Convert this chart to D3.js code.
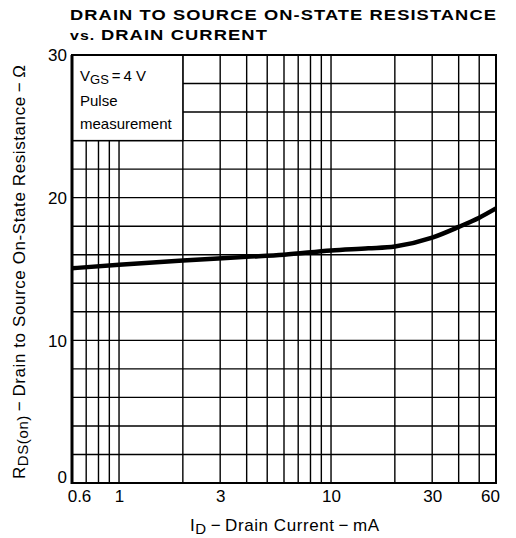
<!DOCTYPE html>
<html><head><meta charset="utf-8">
<script src="https://cdn.jsdelivr.net/npm/d3@7/dist/d3.min.js"></script>
<style>body{margin:0;background:#fff}svg{display:block}text{font-family:"Liberation Sans",Arial,Helvetica,sans-serif;fill:#000}</style>
</head><body><svg id="c" width="516" height="538"></svg>
<script>
const currents = [0.6, 1, 2, 4, 6, 10, 15, 20, 30, 40, 50, 60];
const resistance = [15.05, 15.3, 15.6, 15.85, 16.0, 16.3, 16.45, 16.58, 17.2, 17.95, 18.6, 19.25];
const xTicks = [0.6, 1, 3, 10, 30, 60];
const xGrid = [0.7, 0.8, 0.9, 1, 2, 3, 4, 5, 6, 7, 8, 9, 10, 20, 30, 40, 50];
const yTicks = [0, 10, 20, 30];
const yGrid = [2, 4, 6, 8, 10, 12, 14, 16, 18, 20, 22, 24, 26, 28];
const legendBox = {x0: 0.6, x1: 2, y0: 24, y1: 30};

const svg = d3.select("#c");
const L = 72, R = 496, T = 55, B = 483;
const x = d3.scaleLog().domain([0.6, 60]).range([L, R]);
const y = d3.scaleLinear().domain([0, 30]).range([B, T]);

// grid
svg.append("g").selectAll("line").data(xGrid).join("line")
  .attr("x1", d => x(d)).attr("x2", d => x(d)).attr("y1", T).attr("y2", B)
  .attr("stroke", "#000").attr("stroke-width", 1.4);
svg.append("g").selectAll("line").data(yGrid).join("line")
  .attr("x1", L).attr("x2", R).attr("y1", d => y(d)).attr("y2", d => y(d))
  .attr("stroke", "#000").attr("stroke-width", 1.4);

// legend box
svg.append("rect").attr("x", x(legendBox.x0)).attr("y", y(legendBox.y1))
  .attr("width", x(legendBox.x1) - x(legendBox.x0)).attr("height", y(legendBox.y0) - y(legendBox.y1))
  .attr("fill", "#fff").attr("stroke", "#000").attr("stroke-width", 1.4);

// frame
svg.append("rect").attr("x", L).attr("y", T).attr("width", R - L).attr("height", B - T)
  .attr("fill", "none").attr("stroke", "#000").attr("stroke-width", 2);
svg.append("line").attr("x1", L).attr("x2", L).attr("y1", T).attr("y2", B + 1).attr("stroke", "#000").attr("stroke-width", 3);

// curve
const line = d3.line().x((d, i) => x(currents[i])).y(d => y(d)).curve(d3.curveMonotoneX);
svg.append("path").datum(resistance).attr("d", line).attr("fill", "none")
  .attr("stroke", "#000").attr("stroke-width", 4.5);

// axes (tick labels)
const xAxis = d3.axisBottom(x).tickValues(xTicks).tickSize(0).tickFormat(d3.format("~g"));
const gx = svg.append("g").attr("transform", `translate(0,${B})`).call(xAxis);
gx.select(".domain").remove();
gx.selectAll("text").attr("dy", 0).attr("y", 19).style("font-size", "17px")
  .attr("dx", d => d === 0.6 ? 7 : d === 60 ? -6 : 0);
const yAxis = d3.axisLeft(y).tickValues(yTicks).tickSize(0).tickFormat(d3.format("d"));
const gy = svg.append("g").attr("transform", `translate(${L},0)`).call(yAxis);
gy.select(".domain").remove();
gy.selectAll("text").attr("x", -5).attr("dy", d => d === 0 ? "-0.05em" : "0.35em").style("font-size", "17px");

// legend text
const lg = svg.append("g").style("font-size", "15px");
const t1 = lg.append("text").attr("x", 80).attr("y", 81);
t1.append("tspan").text("V");
t1.append("tspan").attr("dy", 3).style("font-size", "13px").text("GS");
t1.append("tspan").attr("dy", -3).text("\u2009=\u20094 V");
lg.append("text").attr("x", 80).attr("y", 106).text("Pulse");
lg.append("text").attr("x", 80).attr("y", 129).text("measurement");

// title
svg.append("text").attr("x", 70).attr("y", 20).attr("textLength", 427).attr("lengthAdjust", "spacingAndGlyphs")
  .attr("letter-spacing", 0.9).style("font-size", "15px").style("font-weight", "bold").text("DRAIN TO SOURCE ON-STATE RESISTANCE");
const t2 = svg.append("text").attr("x", 70).attr("y", 40).attr("textLength", 198).attr("lengthAdjust", "spacingAndGlyphs")
  .attr("letter-spacing", 0.9).style("font-weight", "bold").style("font-size", "15px");
t2.append("tspan").style("font-size", "13px").text("vs. ");
t2.append("tspan").text("DRAIN CURRENT");

// x label
const xl = svg.append("text").attr("x", 190).attr("y", 531).attr("textLength", 189).attr("lengthAdjust", "spacing").style("font-size", "17px");
xl.append("tspan").text("I");
xl.append("tspan").attr("dy", 3).style("font-size", "15px").text("D");
xl.append("tspan").attr("dy", -3).text("\u2009\u2212\u2009Drain Current\u2009\u2212\u2009mA");

// y label
const yl = svg.append("text").attr("transform", "translate(25,479) rotate(-90)").attr("textLength", 414).attr("lengthAdjust", "spacing").style("font-size", "17px");
yl.append("tspan").text("R");
yl.append("tspan").attr("dy", 3).style("font-size", "15px").text("DS(on)");
yl.append("tspan").attr("dy", -3).text("\u2009\u2212\u2009Drain to Source On-State Resistance\u2009\u2212\u2009\u03A9");
</script></body></html>
